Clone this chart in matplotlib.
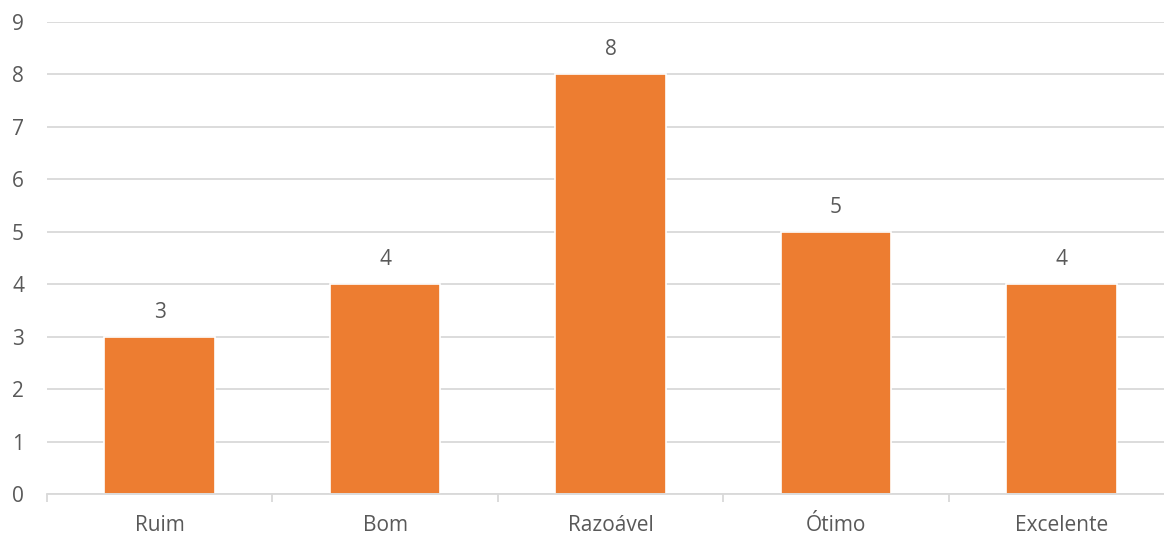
import matplotlib.pyplot as plt

categorias = ['Ruim', 'Bom', 'Razoável', 'Ótimo', 'Excelente']
valores = [3, 4, 8, 5, 4]
yticks = list(range(0, 10))

laranja = '#ED7D31'
cinza_txt = '#595959'
cinza_grade = '#D9D9D9'

plt.rcParams['font.family'] = ['Open Sans', 'DejaVu Sans']

fig = plt.figure(figsize=(11.64, 5.37), dpi=100)
# the reference is cut a little on the right, so the axes run past the edge
ax = fig.add_axes([47 / 1164, 43 / 537, 1127 / 1164, 472 / 537])

x = list(range(len(categorias)))
barras = ax.bar(x, valores, width=0.49, color=laranja, edgecolor='white',
                linewidth=1.2, zorder=2)

for b, v in zip(barras, valores):
    ax.text(b.get_x() + b.get_width() / 2, v + 0.47, str(v),
            ha='center', va='center', fontsize=15, color=cinza_txt)

ax.set_xlim(-0.5, len(categorias) - 0.5)
ax.set_ylim(0, 9)
ax.set_yticks(yticks)
ax.set_yticklabels([str(t) for t in yticks], fontsize=15, color=cinza_txt)
ax.yaxis.grid(True, color=cinza_grade, linewidth=1.3, zorder=0)
ax.tick_params(axis='y', length=0, pad=16.5)

ax.set_xticks(x)
ax.set_xticklabels(categorias, fontsize=15, color=cinza_txt)
ax.tick_params(axis='x', length=0, pad=15)
# separators between categories on the x axis
ax.set_xticks([i - 0.5 for i in range(len(categorias) + 1)], minor=True)
ax.tick_params(axis='x', which='minor', length=6, color=cinza_grade, width=1.3)

for lado in ['top', 'right', 'left']:
    ax.spines[lado].set_visible(False)
ax.spines['bottom'].set_color(cinza_grade)
ax.spines['bottom'].set_linewidth(1.3)

fig.savefig('out.png', dpi=100)
